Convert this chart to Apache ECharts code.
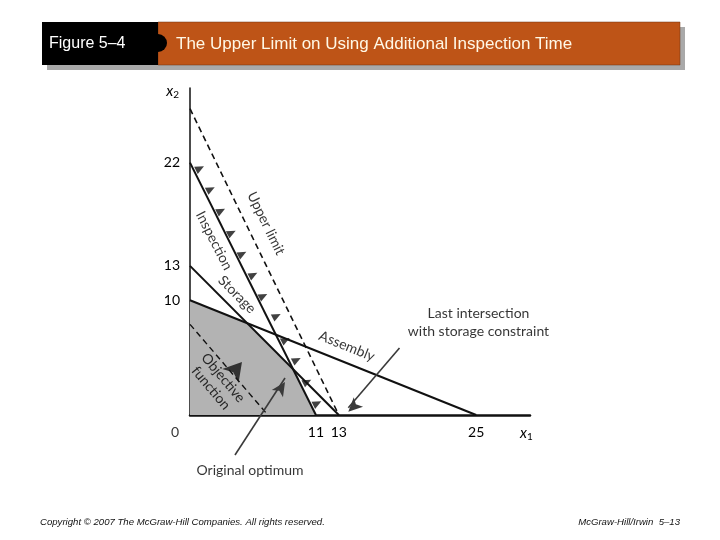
<!DOCTYPE html>
<html>
<head>
<meta charset="utf-8">
<script src="https://cdn.jsdelivr.net/npm/echarts@6/dist/echarts.min.js"></script>
<style>html,body{margin:0;padding:0;background:#fff;}#main{width:720px;height:540px;}</style>
</head>
<body>
<div id="main"></div>
<script>
// ---- data ----
const xTickLabels = [11, 13, 25];
const yTickLabels = [10, 13, 22];
const inspectionLine = [[0, 22], [11, 0]];
const storageLine = [[0, 13], [13, 0]];
const assemblyLine = [[0, 10], [25, 0]];
const upperLimitLine = [[0, 26.7], [13, 0]];
const objectiveLine = [[0, 7.9], [6.8, 0]];
const feasibleEdge = [[0, 10], [5, 8], [9, 4], [11, 0]];
const shiftMarkers = [
  [0.87, 21.5], [1.81, 19.68], [2.71, 17.79], [3.64, 15.89], [4.57, 14.04], [5.53, 12.21],
  [6.40, 10.37], [7.57, 8.63], [8.36, 6.54], [9.32, 4.80], [10.24, 2.90], [11.12, 1.02]
];
const objectiveArrow = [[4.54, 4.62]];
const optimumPointer = [[3.93, -3.49], [8.3, 3.23]];
const intersectionPointer = [[18.3, 5.84], [13.83, 0.64]];
const originLabel = [[0, 0]];
const lineLabels = [
  { text: 'Inspection', pos: [2.1, 15.2], rotate: -63 },
  { text: 'Upper limit', pos: [6.64, 16.7], rotate: -64 },
  { text: 'Storage', pos: [4.1, 10.5], rotate: -45 },
  { text: 'Assembly', pos: [13.7, 6.0], rotate: -22 },
  { text: 'Objective\nfunction', pos: [2.36, 2.79], rotate: -50 }
];
const noteLabels = [
  { text: 'Last intersection\nwith storage constraint', pos: [25.2, 8.1] },
  { text: 'Original optimum', pos: [5.24, -4.8] }
];

const FONT = 'Lato';
const ink = '#111111';
const txt = '#000000';

const chart = echarts.init(document.getElementById('main'), null, { renderer: 'canvas' });

function seg(name, data, dashed, width) {
  return {
    name, type: 'line', data, symbol: 'none', silent: true, z: 4,
    lineStyle: { color: ink, width: width, type: dashed ? [6, 4] : 'solid' }
  };
}

function pointer(name, data, rot) {
  return {
    name, type: 'line', clip: false, silent: true, z: 6,
    data: [
      { value: data[0], symbol: 'none' },
      { value: data[1], symbol: 'arrow', symbolSize: [10, 14], symbolRotate: rot, symbolOffset: [0, 4] }
    ],
    lineStyle: { color: '#3a3a3a', width: 1.6 },
    itemStyle: { color: '#3a3a3a' }
  };
}

const option = {
  animation: false,
  backgroundColor: '#ffffff',
  grid: { left: 190, right: 190, top: 88, bottom: 125, outerBoundsMode: 'none' },
  xAxis: {
    type: 'value', min: 0, max: 29.7, interval: 1,
    axisLine: { lineStyle: { color: ink, width: 2.5 } },
    axisTick: { show: false }, splitLine: { show: false },
    axisLabel: {
      margin: 10, fontFamily: FONT, fontSize: 14, color: txt,
      showMaxLabel: false,
      formatter: v => (xTickLabels.includes(v) ? String(v) : '')
    },
    name: '{i|x}{s|1}', nameLocation: 'end', nameGap: -10,
    nameTextStyle: {
      verticalAlign: 'top', align: 'left', padding: [9, 0, 0, 0],
      rich: {
        i: { fontFamily: FONT, fontSize: 15, fontStyle: 'italic', color: txt },
        s: { fontFamily: FONT, fontSize: 10, color: txt, padding: [8, 0, 0, 0] }
      }
    }
  },
  yAxis: {
    type: 'value', min: 0, max: 28.5, interval: 1,
    axisLine: { lineStyle: { color: ink, width: 1.5 } },
    axisTick: { show: false }, splitLine: { show: false },
    axisLabel: {
      margin: 10, fontFamily: FONT, fontSize: 14, color: txt,
      showMaxLabel: false,
      formatter: v => (yTickLabels.includes(v) ? String(v) : '')
    },
    name: '{i|x}{s|2}', nameLocation: 'end', nameGap: -12,
    nameTextStyle: {
      align: 'right', verticalAlign: 'bottom', padding: [0, 11, 0, 0],
      rich: {
        i: { fontFamily: FONT, fontSize: 15, fontStyle: 'italic', color: txt },
        s: { fontFamily: FONT, fontSize: 10, color: txt, padding: [8, 0, 0, 0] }
      }
    }
  },
  series: [
    {
      name: 'feasible', type: 'line', data: feasibleEdge, symbol: 'none', silent: true, z: 1,
      lineStyle: { width: 0 }, areaStyle: { color: '#b3b3b3', opacity: 1 }
    },
    seg('Inspection', inspectionLine, false, 2),
    seg('Storage', storageLine, false, 2),
    seg('Assembly', assemblyLine, false, 2),
    seg('Upper limit', upperLimitLine, true, 1.6),
    seg('Objective', objectiveLine, true, 1.4),
    {
      name: 'shift', type: 'scatter', data: shiftMarkers, symbol: 'triangle',
      symbolSize: [8, 9], symbolRotate: -63, itemStyle: { color: ink }, silent: true, z: 5
    },
    {
      name: 'objArrow', type: 'scatter', data: objectiveArrow, symbol: 'arrow',
      symbolSize: [16, 18], symbolRotate: -40, itemStyle: { color: ink }, silent: true, z: 5
    },
    pointer('optimumPointer', optimumPointer, -33),
    pointer('intersectionPointer', intersectionPointer, 134),
    {
      name: 'origin', type: 'scatter', data: originLabel, symbolSize: 0, clip: false, silent: true,
      label: { show: true, position: 'inside', offset: [-15, 17], formatter: '0',
        fontFamily: FONT, fontSize: 14, color: txt }
    },
    {
      name: 'lineLabels', type: 'scatter', clip: false, silent: true, symbolSize: 0, z: 7,
      data: lineLabels.map(d => ({
        value: d.pos,
        label: { show: true, position: 'inside', formatter: d.text, rotate: d.rotate,
          fontFamily: FONT, fontSize: 14, color: txt, lineHeight: 16 }
      }))
    },
    {
      name: 'noteLabels', type: 'scatter', clip: false, silent: true, symbolSize: 0, z: 7,
      data: noteLabels.map(d => ({
        value: d.pos,
        label: { show: true, position: 'inside', formatter: d.text,
          fontFamily: FONT, fontSize: 14, color: txt, lineHeight: 18 }
      }))
    }
  ],
  graphic: [
    { type: 'rect', shape: { x: 47, y: 27, width: 638, height: 43 }, style: { fill: '#a9a9a9' }, z: 1 },
    { type: 'rect', shape: { x: 158, y: 22, width: 522, height: 43 }, style: { fill: '#BE5417', stroke: '#6b3010', lineWidth: 0.5 }, z: 2 },
    { type: 'rect', shape: { x: 42, y: 22, width: 116, height: 43 }, style: { fill: '#000' }, z: 3 },
    { type: 'circle', shape: { cx: 158, cy: 43, r: 9 }, style: { fill: '#000' }, z: 3 },
    { type: 'text', x: 49, y: 44, z: 4,
      style: { text: 'Figure 5–4', fill: '#ffffff', font: '16px "Liberation Sans", Arial, sans-serif', verticalAlign: 'middle' } },
    { type: 'text', x: 176, y: 44, z: 4,
      style: { text: 'The Upper Limit on Using Additional Inspection Time', fill: '#fff8e6', font: '17px "Liberation Sans", Arial, sans-serif', verticalAlign: 'middle' } },
    { type: 'text', x: 40, y: 522, z: 4,
      style: { text: 'Copyright © 2007 The McGraw-Hill Companies. All rights reserved.', fill: '#111', font: 'italic 9.6px "Liberation Sans", Arial, sans-serif', verticalAlign: 'middle' } },
    { type: 'text', x: 680, y: 522, z: 4,
      style: { text: 'McGraw-Hill/Irwin  5–13', fill: '#111', font: 'italic 9.6px "Liberation Sans", Arial, sans-serif', verticalAlign: 'middle', align: 'right' } }
  ]
};
chart.setOption(option);
</script>
</body>
</html>
